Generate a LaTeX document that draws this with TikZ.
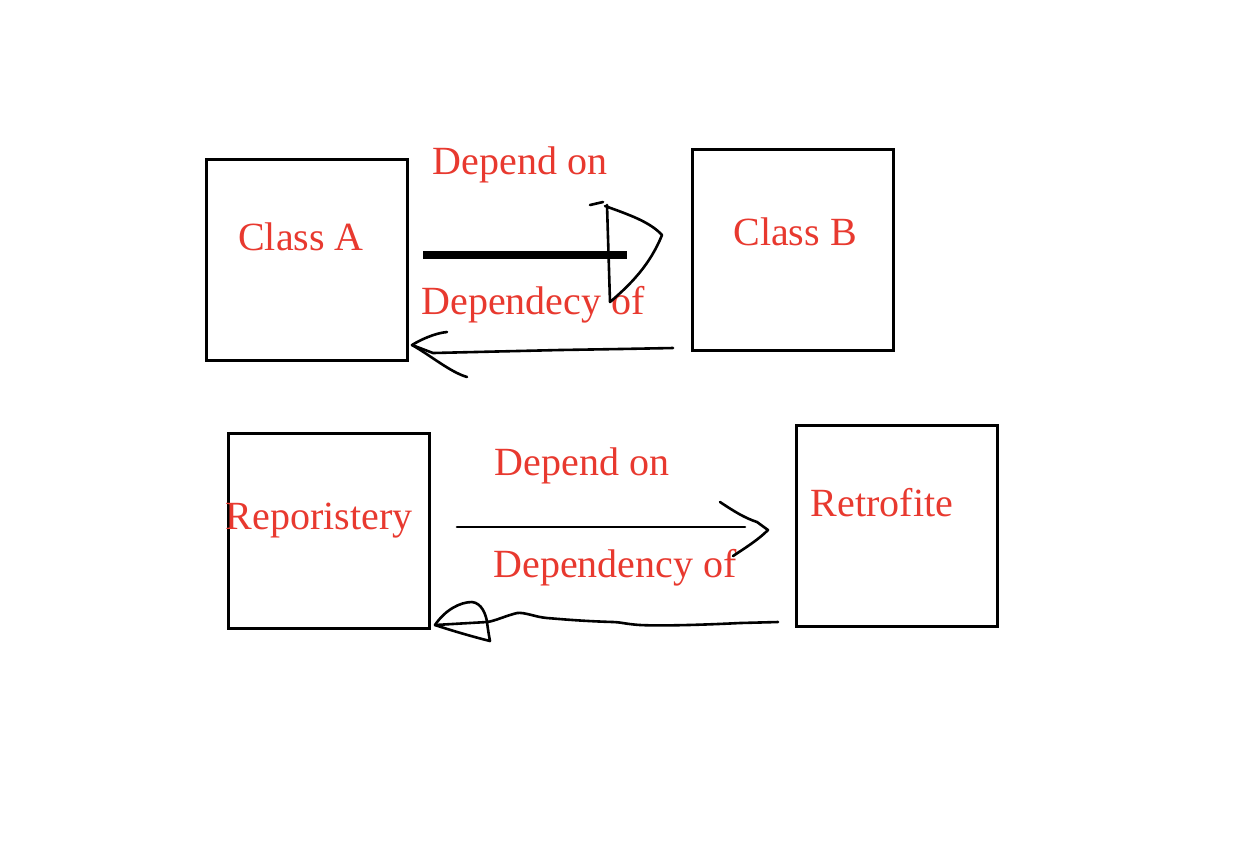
\documentclass[tikz,border=0pt]{standalone}
\usepackage{fontspec}
\setmainfont{Liberation Serif}
\begin{document}
\begin{tikzpicture}[x=0.5pt,y=-0.5pt,
  cls/.style={draw=black,line width=1.5pt,minimum width=100.5pt,minimum height=100.5pt,inner sep=0pt},
  lbl/.style={text=lblred,font=\fontsize{20}{22}\selectfont,inner sep=0pt,anchor=center},
  pen/.style={line width=1.3pt,line cap=round,line join=round}]
\definecolor{lblred}{HTML}{E8392F}
\useasboundingbox[fill=white] (0,0) rectangle (1246,864);
% boxes
\node[cls] (A) at (306.5,259.5) {};
\node[cls] (B) at (792.5,249.5) {};
\node[cls,minimum height=97.5pt] (R) at (328.5,530.5) {};
\node[cls] (T) at (896.5,525.5) {};
% labels
\node[lbl] (tA) at (301,237) {Class A};
\node[lbl] (tB) at (795,232) {Class B};
\node[lbl] (tR) at (319,521) {Reporistery};
\node[lbl] (tT) at (882,503) {Retrofite};
\node[lbl] (d1) at (520,165) {Depend on};
\node[lbl] (d2) at (533,305) {Dependecy of};
\node[lbl] (d3) at (582,466) {Depend on};
\node[lbl] (d4) at (615,568) {Dependency of};
% top arrow A -> B (thick)
\coordinate (a1) at (423,255);
\coordinate (a2) at (627,255);
\draw[line width=4pt] (a1) -- (a2);
\draw[pen] (590,205) -- (603,202) (607,205) -- (610,302)
  (605,206) .. controls (630,215) and (650,222) .. (662,235)
  .. controls (650,265) and (630,285) .. (610,302);
% B -> A arrow
\coordinate (b1) at (673,348);
\coordinate (b2) at (412,345);
\draw[pen] (b1) -- (620,349) -- (560,350) -- (433,353) -- (b2);
\draw[pen] (447,332) .. controls (435,333) and (420,340) .. (b2)
  .. controls (430,355) and (450,372) .. (467,377);
% R -> T arrow
\coordinate (c1) at (457,527);
\coordinate (c2) at (768,530);
\draw[pen] (c1) -- (745,527);
\draw[pen] (720,502) .. controls (735,512) and (745,518) .. (757,522)
  -- (c2) .. controls (758,540) and (745,548) .. (733,556);
% T -> R wavy arrow
\coordinate (e1) at (778,622);
\coordinate (e2) at (435,625);
\draw[pen] (e1) -- (740,623) .. controls (700,625) and (660,626) .. (640,625)
  .. controls (625,624) and (620,622) .. (613,622)
  .. controls (580,621) and (560,619) .. (547,618)
  .. controls (535,617) and (525,612) .. (517,613)
  .. controls (505,616) and (495,621) .. (487,622) -- (e2);
\draw[pen] (e2) .. controls (445,610) and (460,602) .. (472,602)
  .. controls (482,603) and (486,615) .. (487,622)
  .. controls (488,630) and (489,636) .. (490,641)
  .. controls (470,636) and (450,630) .. (e2);
\end{tikzpicture}
\end{document}
